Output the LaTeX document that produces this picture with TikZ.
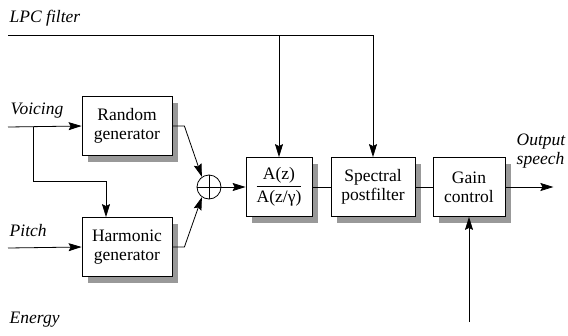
\documentclass[tikz,border=0pt]{standalone}
\usepackage{amsmath}
\usepackage{fontspec}
\setmainfont{Liberation Serif}
\usepackage{tikz}
\usetikzlibrary{arrows.meta,shadows}
\definecolor{shade}{HTML}{999999}

\begin{document}
\begin{tikzpicture}[x=1pt, y=-1pt, line width=0.8pt,
    arr/.style={-{Stealth[length=13pt,width=8pt,inset=2pt]}},
    every node/.style={font=\fontsize{17.5}{19}\selectfont},
    blk/.style={draw, fill=white, align=center, inner sep=0pt,
      minimum height=59pt, drop shadow={shadow xshift=6pt, shadow yshift=-6pt, fill=shade, opacity=1}},
    lbl/.style={anchor=west, font=\fontsize{17.5}{19}\selectfont\itshape}]
  \useasboundingbox (0,0) rectangle (568,335);
  % Blocks
  \node[blk, minimum width=90pt] (rand) at (127,126) {Random\\generator};
  \node[blk, minimum width=90pt] (harm) at (127,247) {Harmonic\\generator};
  \node[draw, circle, fill=white, minimum size=24pt, inner sep=0pt] (sum) at (209,187) {};
  \draw (sum.north) -- (sum.south) (sum.west) -- (sum.east);
  \node[blk, minimum width=66pt] (az) at (279,187) {$\dfrac{\text{A(z)}}{\text{A(z/γ)}}$};
  \node[blk, minimum width=84pt] (spec) at (373,187) {Spectral\\postfilter};
  \node[blk, minimum width=72pt] (gain) at (469,187) {Gain\\control};
  % Inputs
  \coordinate (lpc) at (8,35);
  \coordinate (voi) at (8,127);
  \coordinate (br) at (33,127);
  \coordinate (pit) at (8,248);
  \coordinate (en) at (469,322);
  \node[lbl] (lpcl) at (6,18) {LPC filter};
  \node[lbl] (voil) at (7,111) {Voicing};
  \node[lbl] (pitl) at (6,231) {Pitch};
  \node[lbl] (enl) at (6,320) {Energy};
  % Connections
  \draw[arr] (lpc) -| (spec.north);
  \draw[arr] (az.north |- lpc) -- (az.north);
  \draw[arr] (voi) -- (rand.west);
  \draw[arr] (br) -- (33,181) -| ([xshift=-21pt]harm.north);
  \draw[arr] (pit) -- (harm.west);
  \draw[arr] (rand.east) -- ++(12,0) -- (sum.125);
  \draw[arr] (harm.east) -- ++(12,0) -- (sum.235);
  \draw[arr] (sum) -- (az);
  \draw (az) -- (spec);
  \draw (spec) -- (gain);
  \draw[arr] (gain.east) -- ++(48,0) coordinate (out);
  \draw[arr] (en) -- (gain.south);
  % Output label
  \node[lbl, align=left] (outl) at (513,151) {Output\\speech};
\end{tikzpicture}
\end{document}
